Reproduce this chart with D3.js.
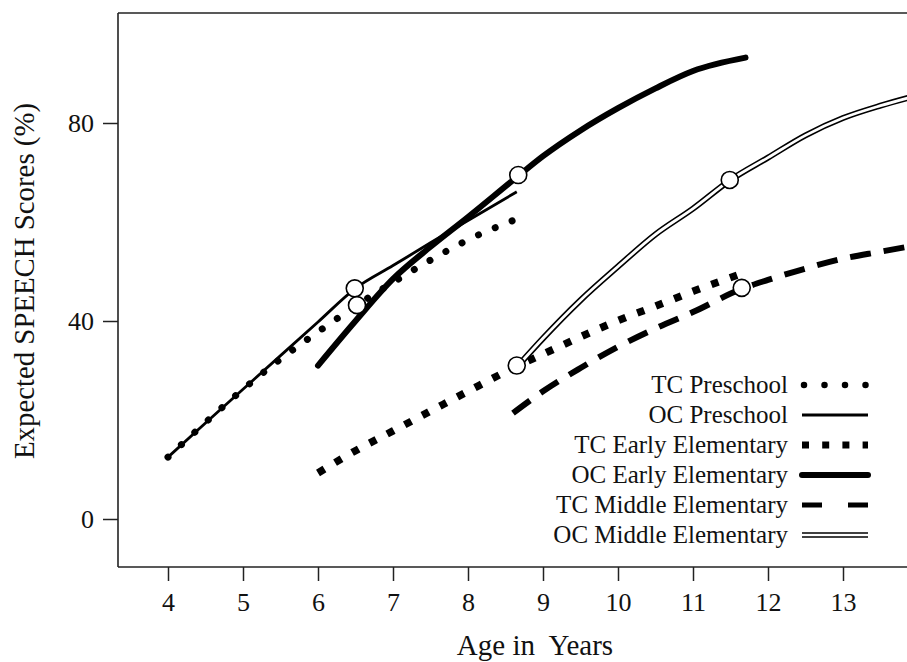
<!DOCTYPE html>
<html><head><meta charset="utf-8">
<script src="https://cdn.jsdelivr.net/npm/d3@7"></script>
<style>
html,body{margin:0;padding:0;background:#fff;}
svg{display:block;}
text{font-family:"Liberation Serif","Times New Roman",serif;fill:#111;}
</style></head>
<body>
<svg id="chart" width="907" height="662"></svg>
<script>
// ---- data ----
const seriesNames = ["TC Preschool","OC Preschool","TC Early Elementary","OC Early Elementary","TC Middle Elementary","OC Middle Elementary"];
const agesTCP = [4,4.5,5,5.5,6,6.5,7,7.5,8,8.6];
const valsTCP = [12.5,19.5,26.2,32.3,37.8,43,47.8,52.3,56.4,60.3];
const agesOCP = [4,4.5,5,5.5,6,6.5,7,7.5,8,8.65];
const valsOCP = [12.5,19.4,26.2,33,39.8,46.6,51.2,55.8,60.3,66.1];
const agesTCE = [6,6.5,7,7.5,8,8.67,9,9.5,10,10.5,11,11.6];
const valsTCE = [9.3,13.8,17.8,21.8,25.8,31,33.3,36.8,40.1,43,46,49.3];
const agesOCE = [6,6.5,7,7.5,8,8.67,9,9.5,10,10.5,11,11.7];
const valsOCE = [31,40,48.5,55,61,69.3,73.3,78.5,83,87,90.5,93.2];
const agesTCM = [8.6,9,9.5,10,10.5,11,11.65,12,12.5,13,13.5,13.9];
const valsTCM = [21.4,25.8,30.5,34.8,38.5,41.8,46.5,48.3,50.6,52.6,54,55.1];
const agesOCM = [8.67,9,9.5,10,10.5,11,11.5,12,12.5,13,13.5,13.9];
const valsOCM = [31,36.5,44.2,51,57.5,62.7,68.5,73,77.5,81,83.5,85.2];
const knotAges = [6.49,6.52,8.67,8.65,11.49,11.65];
const knotVals = [46.6,43.2,69.5,31,68.5,46.7];
const xTicks = [4,5,6,7,8,9,10,11,12,13];
const yTicks = [0,40,80];

// ---- layout ----
const svg = d3.select("#chart");
const L = 118, T = 13, R = 907, B = 567;
const x = d3.scaleLinear().domain([4,13]).range([168,843]);
const y = d3.scaleLinear().domain([0,80]).range([519,123]);

const clipId = "clip";
svg.append("defs").append("clipPath").attr("id",clipId)
  .append("rect").attr("x",L).attr("y",T).attr("width",R-L).attr("height",B-T);

// frame
svg.append("line").attr("x1",L).attr("x2",R+2).attr("y1",T).attr("y2",T).attr("stroke","#222").attr("stroke-width",1.6);
svg.append("line").attr("x1",L).attr("x2",R+2).attr("y1",B).attr("y2",B).attr("stroke","#222").attr("stroke-width",1.6);
svg.append("line").attr("x1",L).attr("x2",L).attr("y1",T).attr("y2",B).attr("stroke","#222").attr("stroke-width",1.6);

// axes
const xAxis = svg.append("g").attr("transform",`translate(0,${B})`)
  .call(d3.axisBottom(x).tickValues(xTicks).tickSize(14).tickPadding(12).tickSizeOuter(0));
xAxis.select(".domain").remove();
xAxis.selectAll("line").attr("stroke","#222").attr("stroke-width",1.5);
xAxis.selectAll("text").attr("font-size",26).attr("font-family","Liberation Serif").attr("fill","#111");

const yAxis = svg.append("g").attr("transform",`translate(${L},0)`)
  .call(d3.axisLeft(y).tickValues(yTicks).tickSize(15).tickPadding(9).tickSizeOuter(0));
yAxis.select(".domain").remove();
yAxis.selectAll("line").attr("stroke","#222").attr("stroke-width",1.5);
yAxis.selectAll("text").attr("font-size",26).attr("font-family","Liberation Serif").attr("fill","#111");

// titles
svg.append("text").attr("x",535).attr("y",655).attr("text-anchor","middle").attr("font-size",29)
  .attr("xml:space","preserve").text("Age in  Years");
svg.append("text").attr("transform","translate(34,281) rotate(-90)").attr("text-anchor","middle")
  .attr("font-size",30).attr("textLength",356).attr("lengthAdjust","spacingAndGlyphs")
  .text("Expected SPEECH Scores (%)");

// series
const line = d3.line().x(d=>x(d[0])).y(d=>y(d[1])).curve(d3.curveMonotoneX);
const zip = (a,b)=>a.map((v,i)=>[v,b[i]]);
const g = svg.append("g").attr("clip-path",`url(#${clipId})`);

const styles = [
  {a:agesTCP,v:valsTCP,sw:7,dot:0,period:18.5,cap:"round"},
  {a:agesOCP,v:valsOCP,sw:2.8,cap:"butt"},
  {a:agesTCE,v:valsTCE,sw:7.5,dot:7.5,period:20,cap:"butt"},
  {a:agesOCE,v:valsOCE,sw:6,cap:"round"},
  {a:agesTCM,v:valsTCM,sw:6,dash:"21,13",cap:"butt"},
  {a:agesOCM,v:valsOCM,sw:6,cap:"butt",dbl:true}
];
styles.forEach(s=>{
  const p = g.append("path").attr("d",line(zip(s.a,s.v))).attr("fill","none")
    .attr("stroke","#000").attr("stroke-width",s.sw).attr("stroke-linecap",s.cap);
  if(s.dash) p.attr("stroke-dasharray",s.dash);
  if(s.period!==undefined){
    const len = p.node().getTotalLength() - s.dot - 1;
    const n = Math.max(1, Math.round(len / s.period));
    const per = len / n;
    p.attr("stroke-dasharray", `${s.dot===0?0.01:s.dot},${per - (s.dot===0?0.01:s.dot)}`);
  }
  if(s.dbl) g.append("path").attr("d",line(zip(s.a,s.v))).attr("fill","none")
    .attr("stroke","#fff").attr("stroke-width",2.8);
});

// knots
g.selectAll("circle.knot").data(zip(knotAges,knotVals)).join("circle")
  .attr("class","knot").attr("cx",d=>x(d[0])).attr("cy",d=>y(d[1])).attr("r",8.5)
  .attr("fill","#fff").attr("stroke","#000").attr("stroke-width",1.6);

// legend
const lg = svg.append("g");
const rowY0 = 393, rowH = 30, textRight = 788, sx1 = 802, sx2 = 868;
seriesNames.forEach((n,i)=>{
  const by = rowY0 + i*rowH;
  lg.append("text").attr("x",textRight).attr("y",by).attr("text-anchor","end").attr("font-size",25).text(n);
  const cy = by - 8;
  const s = styles[i];
  const ln = lg.append("line").attr("x1",sx1).attr("x2",sx2).attr("y1",cy).attr("y2",cy)
    .attr("stroke","#000").attr("stroke-width",s.sw).attr("stroke-linecap",s.cap);
  if(i===0){ ln.attr("x1",sx1+2).attr("stroke-dasharray","0,20.5").attr("stroke-width",6.5); }
  if(i===1){ ln.attr("stroke-width",3); }
  if(i===2){ ln.attr("stroke-dasharray","7,13.2").attr("stroke-width",7); }
  if(i===4){ ln.attr("stroke-dasharray","20,26").attr("stroke-width",5); }
  if(i===5){ ln.attr("stroke-width",5.5);
    lg.append("line").attr("x1",sx1).attr("x2",sx2).attr("y1",cy).attr("y2",cy)
      .attr("stroke","#fff").attr("stroke-width",2.6); }
});
</script>
</body></html>
